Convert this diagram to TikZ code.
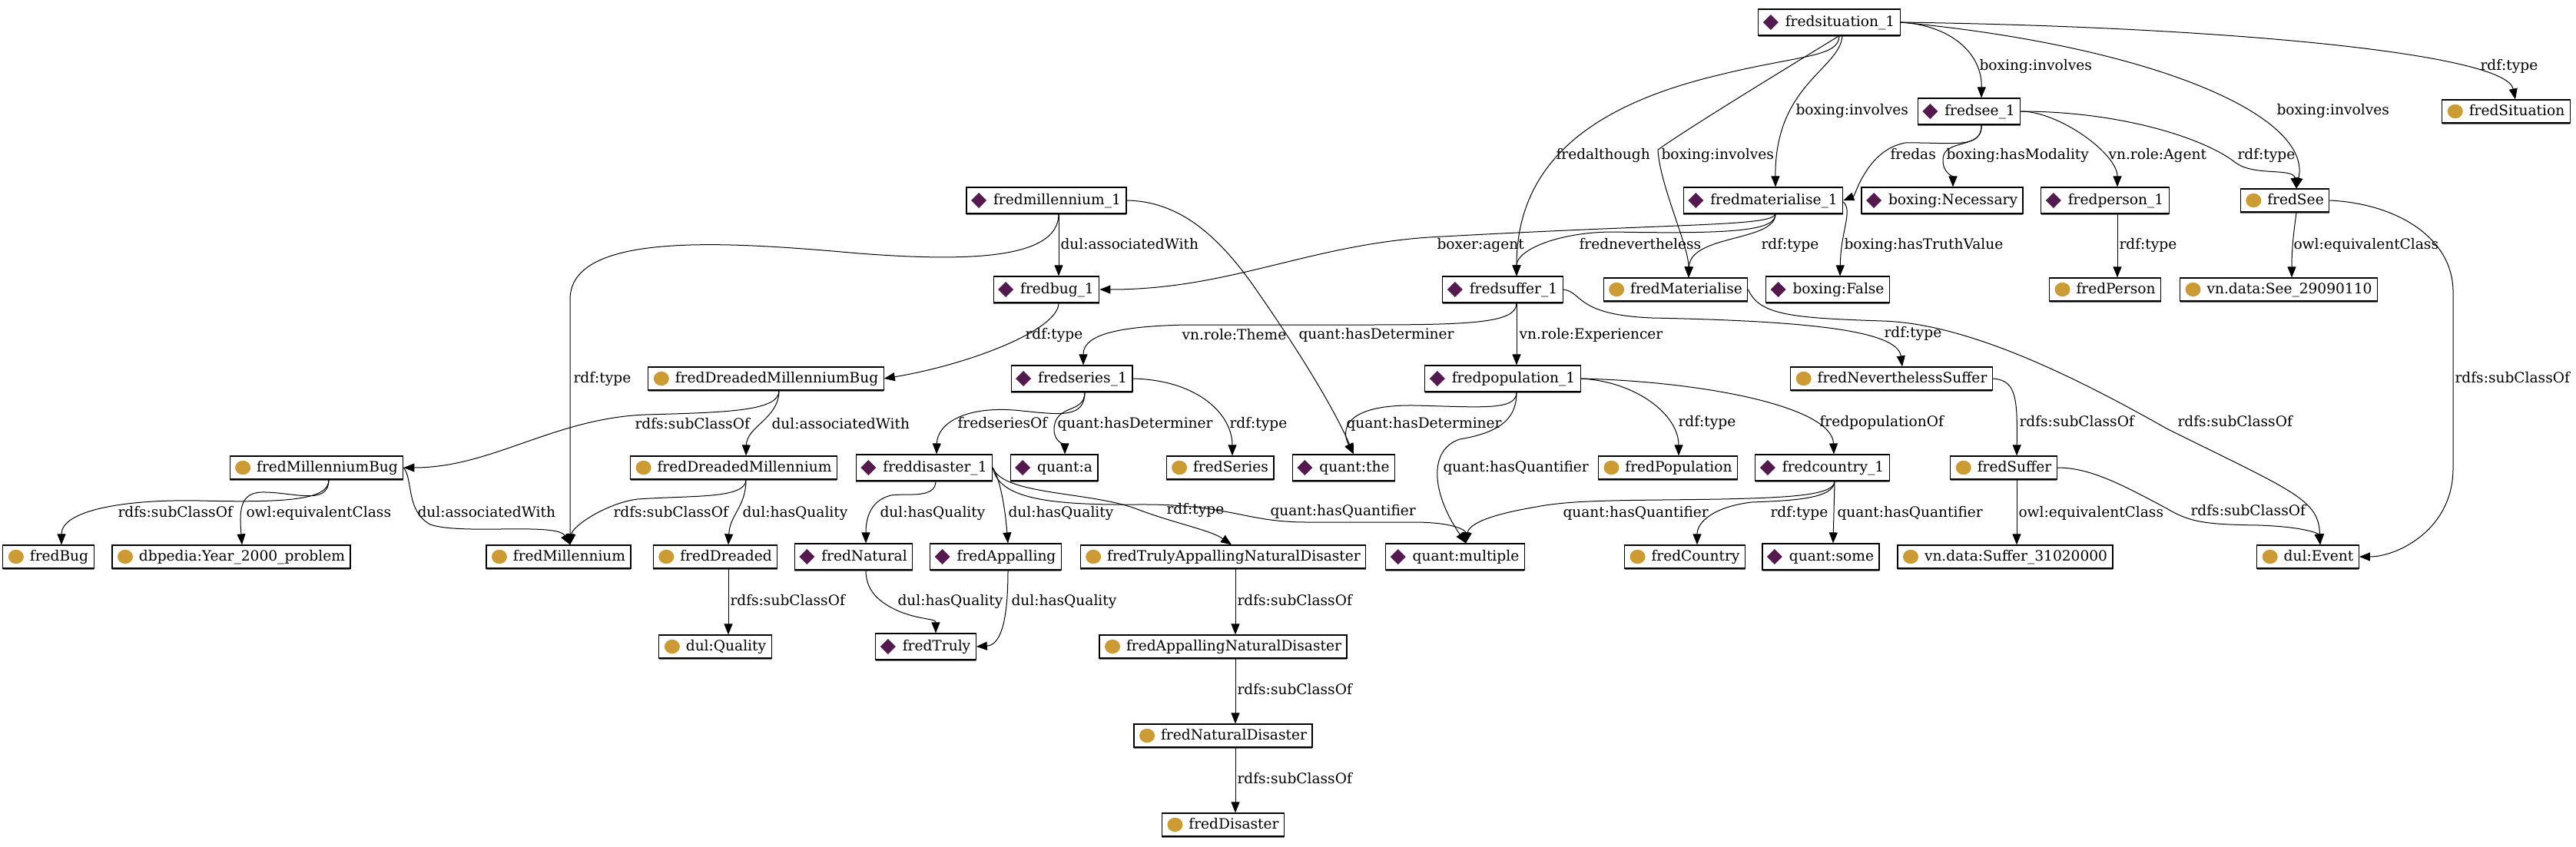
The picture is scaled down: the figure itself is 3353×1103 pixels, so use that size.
\documentclass[tikz,border=0pt]{standalone}
\usepackage{fontspec}
\setmainfont{DejaVu Serif}
\usepackage{tikz}
\usetikzlibrary{arrows.meta}
\usetikzlibrary{shadows}
\usetikzlibrary{positioning}

\definecolor{instcol}{RGB}{84,26,80}
\definecolor{clscol}{RGB}{205,155,52}
\newcommand{\nodefont}{\fontsize{9.3}{11}\selectfont}

\tikzset{
  box/.style={draw=black, line width=0.6pt, fill=white,
    general shadow={shadow yshift=-1pt, fill=black!55},
    inner xsep=3.5pt, inner ysep=0pt, text height=7pt, text depth=2pt,
    font=\nodefont, execute at begin node={\hspace*{14pt}}},
  ind/.style={box, minimum height=17pt,
    path picture={\fill[instcol] ([xshift=8pt]path picture bounding box.west)
      +(0,5pt) -- +(5pt,0) -- +(0,-5pt) -- +(-5pt,0) -- cycle;}},
  cls/.style={box, minimum height=15pt,
    path picture={\fill[clscol] ([xshift=8.5pt]path picture bounding box.west)
      ellipse [x radius=5pt, y radius=4.6pt];}},
  rel/.style={line width=0.5pt, -{Triangle[length=7pt,width=5.5pt]}},
  lbl/.style={font=\nodefont, inner sep=0pt, anchor=west, text height=7pt, text depth=2pt}
}

\begin{document}
\begin{tikzpicture}[x=0.5pt, y=-0.5pt]
  \useasboundingbox (0,0) rectangle (3353,1103);

  % individuals
  \node[ind] (sit) at (2381,29) {fredsituation\_1};
  \node[ind] (see) at (2563,145) {fredsee\_1};
  \node[ind] (mill) at (1362,261) {fredmillennium\_1};
  \node[ind] (mat) at (2295,261) {fredmaterialise\_1};
  \node[ind] (nec) at (2528,261) {boxing:Necessary};
  \node[ind] (person) at (2740,261) {fredperson\_1};
  \node[ind] (bug) at (1362,377) {fredbug\_1};
  \node[ind] (suf) at (1956,377) {fredsuffer\_1};
  \node[ind] (false) at (2379,377) {boxing:False};
  \node[ind] (ser) at (1395,493) {fredseries\_1};
  \node[ind] (pop) at (1956,493) {fredpopulation\_1};
  \node[ind] (dis) at (1203,609) {freddisaster\_1};
  \node[ind] (qa) at (1372,609) {quant:a};
  \node[ind] (qthe) at (1749,609) {quant:the};
  \node[ind] (country) at (2372,609) {fredcountry\_1};
  \node[ind] (Natural) at (1111,725) {fredNatural};
  \node[ind] (Appalling) at (1296,725) {fredAppalling};
  \node[ind] (qmult) at (1894,725) {quant:multiple};
  \node[ind] (qsome) at (2370,725) {quant:some};
  \node[ind] (Truly) at (1205,842) {fredTruly};

  % classes
  \node[cls] (Situation) at (3262,145) {fredSituation};
  \node[cls] (See) at (2974,261) {fredSee};
  \node[cls] (Mat) at (2181,377) {fredMaterialise};
  \node[cls] (Person) at (2740,377) {fredPerson};
  \node[cls] (seeData) at (2966,377) {vn.data:See\_29090110};
  \node[cls] (DMB) at (997,493) {fredDreadedMillenniumBug};
  \node[cls] (NS) at (2462,493) {fredNeverthelessSuffer};
  \node[cls] (MB) at (412,609) {fredMillenniumBug};
  \node[cls] (DM) at (955,609) {fredDreadedMillennium};
  \node[cls] (Series) at (1588,609) {fredSeries};
  \node[cls] (Population) at (2171,609) {fredPopulation};
  \node[cls] (Suffer) at (2608,609) {fredSuffer};
  \node[cls] (Bug) at (63,725) {fredBug};
  \node[cls] (y2k) at (301,725) {dbpedia:Year\_2000\_problem};
  \node[cls] (Millennium) at (727,725) {fredMillennium};
  \node[cls] (Dreaded) at (931,725) {fredDreaded};
  \node[cls] (TAND) at (1592,725) {fredTrulyAppallingNaturalDisaster};
  \node[cls] (Country) at (2193,725) {fredCountry};
  \node[cls] (sufData) at (2610,725) {vn.data:Suffer\_31020000};
  \node[cls] (Event) at (3004,725) {dul:Event};
  \node[cls] (Quality) at (931,842) {dul:Quality};
  \node[cls] (AND) at (1592,842) {fredAppallingNaturalDisaster};
  \node[cls] (ND) at (1592,958) {fredNaturalDisaster};
  \node[cls] (Disaster) at (1592,1074) {fredDisaster};

  % fredsituation_1
  \draw[rel] (sit.east) .. controls (2540,33) and (2580,70) .. ([xshift=8pt]see.north) node[lbl] at (2576,86) {boxing:involves};
  \draw[rel] (sit.east) .. controls (2900,35) and (3262,70) .. ([xshift=6pt]Situation.north) node[lbl] at (3228,86) {rdf:type};
  \draw[rel] (sit.east) .. controls (2800,60) and (3010,150) .. ([xshift=7.5pt]See.north) node[lbl] at (2963,144) {boxing:involves};
  \draw[rel] ([xshift=8.5pt]sit.south) .. controls (2395,90) and (2310,110) .. ([xshift=8pt]mat.north) node[lbl] at (2337,144) {boxing:involves};
  \draw[rel] ([xshift=6.5pt]sit.south) .. controls (2330,86) and (2200,165) .. (2158,195) .. controls (2160,240) and (2198,320) .. ([xshift=8.5pt]Mat.north) node[lbl] at (2162,202) {boxing:involves};
  \draw[rel] ([xshift=6.5pt]sit.south) .. controls (2394,75) and (2340,72) .. (2236,98) .. controls (2060,140) and (1974,220) .. ([xshift=9pt]suf.north) node[lbl] at (2025,202) {fredalthough};

  % fredsee_1
  \draw[rel] ([xshift=8pt]see.south) .. controls (2580,195) and (2540,185) .. (2480,186) .. controls (2430,195) and (2415,255) .. (mat.east) node[lbl] at (2460,202) {fredas};
  \draw[rel] ([xshift=8pt]see.south) .. controls (2582,195) and (2530,180) .. (2529,207) .. controls (2528,225) and (2542,230) .. ([xshift=7pt]nec.north) node[lbl] at (2533,202) {boxing:hasModality};
  \draw[rel] (see.east) .. controls (2680,145) and (2756,200) .. ([xshift=8pt]person.north) node[lbl] at (2744,202) {vn.role:Agent};
  \draw[rel] (see.east) .. controls (2760,145) and (2870,180) .. (2910,212) .. controls (2935,230) and (2985,218) .. ([xshift=7.5pt]See.north) node[lbl] at (2912,202) {rdf:type};

  % fredmaterialise_1
  \draw[rel] ([yshift=-1pt]mat.east) .. controls (2412,275) and (2396,300) .. ([xshift=8pt]false.north) node[lbl] at (2400,319) {boxing:hasTruthValue};
  \draw[rel] ([xshift=8pt]mat.south) .. controls (2305,295) and (2200,290) .. (1860,309) .. controls (1700,320) and (1600,377) .. (bug.east) node[lbl] at (1870,319) {boxer:agent};
  \draw[rel] ([xshift=8pt]mat.south) .. controls (2311,300) and (2260,305) .. (2100,302) .. controls (2030,302) and (1974,325) .. ([xshift=9pt]suf.north) node[lbl] at (2055,319) {frednevertheless};
  \draw[rel] ([xshift=8pt]mat.south) .. controls (2311,315) and (2200,305) .. ([xshift=8.5pt]Mat.north) node[lbl] at (2292,319) {rdf:type};

  % fredmillennium_1
  \draw[rel] ([xshift=8pt]mill.south) -- ([xshift=8pt]bug.north) node[lbl] at (1380,319) {dul:associatedWith};
  \draw[rel] (mill.east) .. controls (1530,262) and (1580,300) .. (1630,370) .. controls (1700,470) and (1740,540) .. ([xshift=6.5pt]qthe.north) node[lbl] at (1690,436) {quant:hasDeterminer};
  \draw[rel] ([xshift=8pt]mill.south) .. controls (1378,340) and (1250,340) .. (1118,330) .. controls (950,315) and (742,300) .. (742,390) -- ([xshift=7.5pt]Millennium.north) node[lbl] at (746,493) {rdf:type};

  % fredbug_1
  \draw[rel] ([xshift=8pt]bug.south) .. controls (1378,430) and (1260,475) .. (DMB.east) node[lbl] at (1334,436) {rdf:type};

  % fredDreadedMillenniumBug
  \draw[rel] ([xshift=8.5pt]DMB.south) .. controls (1014,535) and (950,537) .. (840,540) .. controls (720,545) and (640,609) .. (MB.east) node[lbl] at (826,553) {rdfs:subClassOf};
  \draw[rel] ([xshift=8.5pt]DMB.south) .. controls (1014,545) and (972,555) .. ([xshift=8pt]DM.north) node[lbl] at (1004,553) {dul:associatedWith};

  % fredMillenniumBug
  \draw[rel] ([xshift=8pt]MB.south) .. controls (428,650) and (380,655) .. (260,652) .. controls (160,650) and (80,665) .. ([xshift=8.5pt]Bug.north) node[lbl] at (153,668) {rdfs:subClassOf};
  \draw[rel] ([xshift=8pt]MB.south) .. controls (428,660) and (380,640) .. (340,641) .. controls (310,642) and (312,670) .. ([xshift=7pt]y2k.north) node[lbl] at (320,668) {owl:equivalentClass};
  \draw[rel] (MB.east) .. controls (538,625) and (528,665) .. (560,683) .. controls (600,697) and (725,680) .. ([xshift=7.5pt]Millennium.north) node[lbl] at (543,668) {dul:associatedWith};

  % fredDreadedMillennium
  \draw[rel] ([xshift=8pt]DM.south) .. controls (971,650) and (900,645) .. (830,650) .. controls (790,655) and (745,685) .. ([xshift=7.5pt]Millennium.north) node[lbl] at (798,668) {rdfs:subClassOf};
  \draw[rel] ([xshift=8pt]DM.south) .. controls (971,660) and (950,670) .. ([xshift=8.5pt]Dreaded.north) node[lbl] at (966,668) {dul:hasQuality};
  \draw[rel] ([xshift=8.5pt]Dreaded.south) -- ([xshift=8.5pt]Quality.north) node[lbl] at (950,783) {rdfs:subClassOf};

  % fredseries_1
  \draw[rel] ([xshift=8.5pt]ser.south) .. controls (1412,545) and (1380,540) .. (1330,535) .. controls (1260,527) and (1220,550) .. ([xshift=8pt]dis.north) node[lbl] at (1246,552) {fredseriesOf};
  \draw[rel] ([xshift=8.5pt]ser.south) .. controls (1412,540) and (1372,525) .. (1372,560) .. controls (1372,575) and (1386,580) .. ([xshift=7pt]qa.north) node[lbl] at (1376,552) {quant:hasDeterminer};
  \draw[rel] (ser.east) .. controls (1560,495) and (1604,540) .. ([xshift=8pt]Series.north) node[lbl] at (1600,552) {rdf:type};

  % fredsuffer_1
  \draw[rel] ([xshift=9pt]suf.south) .. controls (1974,420) and (1920,423) .. (1780,423) -- (1545,423) .. controls (1440,425) and (1410,440) .. ([xshift=7.5pt]ser.north) node[lbl] at (1538,437) {vn.role:Theme};
  \draw[rel] ([xshift=9pt]suf.south) -- ([xshift=9pt]pop.north) node[lbl] at (1977,436) {vn.role:Experiencer};
  \draw[rel] (suf.east) .. controls (2060,380) and (2050,410) .. (2150,414) .. controls (2350,418) and (2470,430) .. ([xshift=7pt]NS.north) node[lbl] at (2452,434) {rdf:type};

  % fredpopulation_1
  \draw[rel] ([xshift=9pt]pop.south) .. controls (1974,535) and (1930,530) .. (1840,528) .. controls (1750,527) and (1745,560) .. ([xshift=6.5pt]qthe.north) node[lbl] at (1752,552) {quant:hasDeterminer};
  \draw[rel] ([xshift=9pt]pop.south) .. controls (1974,540) and (1960,562) .. (1900,572) .. controls (1860,585) and (1862,640) .. ([xshift=7pt]qmult.north) node[lbl] at (1878,609) {quant:hasQuantifier};
  \draw[rel] (pop.east) .. controls (2130,497) and (2185,540) .. ([xshift=7pt]Population.north) node[lbl] at (2184,550) {rdf:type};
  \draw[rel] (pop.east) .. controls (2220,497) and (2385,530) .. ([xshift=7.5pt]country.north) node[lbl] at (2368,550) {fredpopulationOf};

  % freddisaster_1
  \draw[rel] ([xshift=7.5pt]dis.south) .. controls (1218,650) and (1180,642) .. (1160,645) .. controls (1130,652) and (1127,680) .. ([xshift=8pt]Natural.north) node[lbl] at (1145,668) {dul:hasQuality};
  \draw[rel] (dis.east) .. controls (1302,625) and (1308,660) .. ([xshift=8pt]Appalling.north) node[lbl] at (1312,668) {dul:hasQuality};
  \draw[rel] (dis.east) .. controls (1305,645) and (1420,640) .. (1480,663) .. controls (1530,682) and (1575,690) .. ([xshift=5.5pt]TAND.north) node[lbl] at (1518,664) {rdf:type};
  \draw[rel] (dis.east) .. controls (1300,648) and (1360,658) .. (1480,657) .. controls (1600,656) and (1620,680) .. (1700,680) -- (1840,680) .. controls (1890,680) and (1908,690) .. ([xshift=7pt]qmult.north) node[lbl] at (1653,666) {quant:hasQuantifier};

  % fredcountry_1
  \draw[rel] ([xshift=8pt]country.south) .. controls (2388,645) and (2330,648) .. (2240,650) .. controls (2130,652) and (2050,650) .. (2000,660) .. controls (1940,670) and (1912,682) .. ([xshift=7pt]qmult.north) node[lbl] at (2034,668) {quant:hasQuantifier};
  \draw[rel] ([xshift=8pt]country.south) .. controls (2388,650) and (2330,652) .. (2280,654) .. controls (2230,660) and (2209,680) .. ([xshift=8pt]Country.north) node[lbl] at (2304,668) {rdf:type};
  \draw[rel] ([xshift=8pt]country.south) -- ([xshift=8pt]qsome.north) node[lbl] at (2391,668) {quant:hasQuantifier};

  % classes: subclass and equivalence
  \draw[rel] (NS.east) .. controls (2625,495) and (2626,520) .. ([xshift=8.5pt]Suffer.north) node[lbl] at (2628,550) {rdfs:subClassOf};
  \draw[rel] (Mat.east) .. controls (2290,410) and (2330,414) .. (2450,418) .. controls (2560,421) and (2700,490) .. (2820,558) .. controls (2985,640) and (3018,650) .. ([xshift=8pt]Event.north) node[lbl] at (2834,550) {rdfs:subClassOf};
  \draw[rel] ([xshift=7.5pt]See.south) .. controls (2986,300) and (2983,320) .. ([xshift=8.5pt]seeData.north) node[lbl] at (2985,319) {owl:equivalentClass};
  \draw[rel] (See.east) .. controls (3120,265) and (3193,310) .. (3193,380) -- (3193,610) .. controls (3193,690) and (3120,725) .. (Event.east) node[lbl] at (3195,493) {rdfs:subClassOf};
  \draw[rel] ([xshift=8pt]person.south) -- ([xshift=8pt]Person.north) node[lbl] at (2758,319) {rdf:type};
  \draw[rel] ([xshift=8.5pt]Suffer.south) -- ([xshift=7.5pt]sufData.north) node[lbl] at (2627,668) {owl:equivalentClass};
  \draw[rel] (Suffer.east) .. controls (2720,609) and (2760,630) .. (2820,662) .. controls (2850,680) and (2870,683) .. (2940,684) .. controls (3000,686) and (3018,695) .. ([xshift=8pt]Event.north) node[lbl] at (2851,666) {rdfs:subClassOf};

  % qualities
  \draw[rel] ([xshift=8pt]Natural.south) .. controls (1127,770) and (1145,785) .. (1170,796) .. controls (1200,808) and (1218,805) .. ([xshift=6.5pt]Truly.north) node[lbl] at (1168,783) {dul:hasQuality};
  \draw[rel] ([xshift=8pt]Appalling.south) .. controls (1312,800) and (1305,840) .. (Truly.east) node[lbl] at (1316,783) {dul:hasQuality};
  \draw[rel] ([xshift=8pt]TAND.south) -- ([xshift=8pt]AND.north) node[lbl] at (1610,783) {rdfs:subClassOf};
  \draw[rel] ([xshift=8pt]AND.south) -- ([xshift=8pt]ND.north) node[lbl] at (1610,899) {rdfs:subClassOf};
  \draw[rel] ([xshift=8pt]ND.south) -- ([xshift=8pt]Disaster.north) node[lbl] at (1610,1015) {rdfs:subClassOf};
\end{tikzpicture}
\end{document}
